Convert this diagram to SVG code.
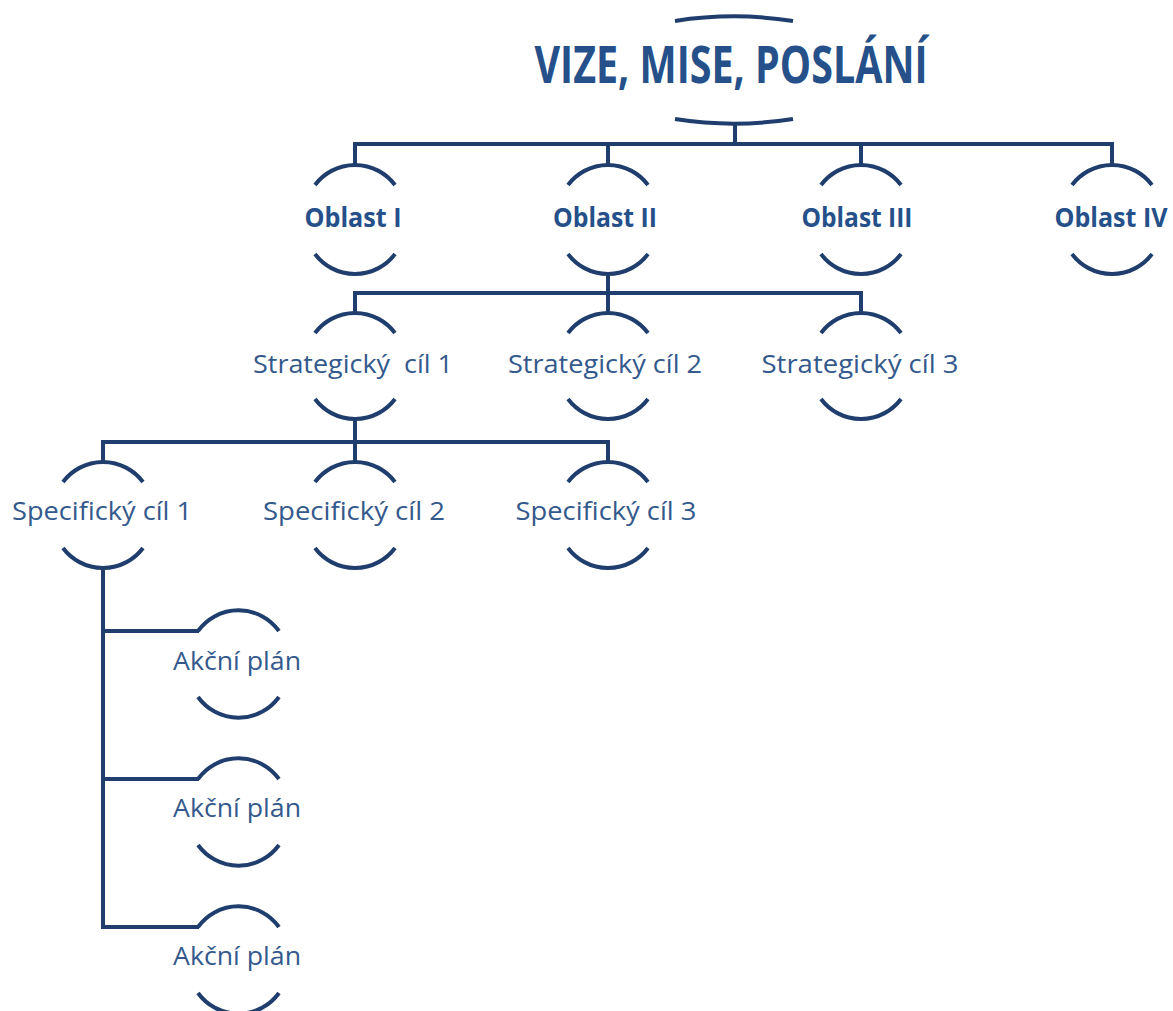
<svg xmlns="http://www.w3.org/2000/svg" width="1173" height="1011" viewBox="0 0 1173 1011">
<style>
.ln{fill:none;stroke:#1F3D6D;stroke-width:4;stroke-linejoin:miter;stroke-linecap:butt}
.arc{fill:none;stroke:#1F3D6D;stroke-width:4;stroke-linecap:butt}
.t{font-family:"Open Sans","Noto Sans","Liberation Sans",sans-serif;text-anchor:middle;fill:#34598C}
.b{font-weight:bold;fill:#25508A}
.title{font-size:52px}
.ob{font-size:26px}
.lab{font-size:25px}
</style>
<rect width="1173" height="1011" fill="#ffffff"/>
<g id="connectors">
<path class="ln" d="M735 122 V144 M353 144 H1114 M355 142 V165 M608 144 V165 M861 144 V165 M1112 142 V165"/>
<path class="ln" d="M608 274 V293 M353 293 H863 M355 291 V313 M608 293 V313 M861 291 V313"/>
<path class="ln" d="M355 419 V442 M101 442 H610 M103 440 V462 M355 442 V462 M608 440 V462"/>
<path class="ln" d="M103 568 V929 M103 631 H199 M103 779 H199 M103 927 H199"/>
</g>
<g id="node-title">
<path class="arc" d="M675 21 A380 380 0 0 1 793 21"/>
<text class="t b title" x="731" y="83" textLength="393" lengthAdjust="spacingAndGlyphs">VIZE, MISE, POSLÁNÍ</text>
<path class="arc" d="M675 119 A380 380 0 0 0 793 119"/>
</g>
<g id="node-oblast-1">
<path class="arc" d="M315 185 A50 50 0 0 1 395 185"/>
<text class="t b ob" x="353" y="227" textLength="97" lengthAdjust="spacingAndGlyphs">Oblast I</text>
<path class="arc" d="M315 254 A50 50 0 0 0 395 254"/>
</g>
<g id="node-oblast-2">
<path class="arc" d="M568 185 A50 50 0 0 1 648 185"/>
<text class="t b ob" x="605" y="227" textLength="104" lengthAdjust="spacingAndGlyphs">Oblast II</text>
<path class="arc" d="M568 254 A50 50 0 0 0 648 254"/>
</g>
<g id="node-oblast-3">
<path class="arc" d="M821 185 A50 50 0 0 1 901 185"/>
<text class="t b ob" x="857" y="227" textLength="111" lengthAdjust="spacingAndGlyphs">Oblast III</text>
<path class="arc" d="M821 254 A50 50 0 0 0 901 254"/>
</g>
<g id="node-oblast-4">
<path class="arc" d="M1072 185 A50 50 0 0 1 1152 185"/>
<text class="t b ob" x="1111" y="227" textLength="113" lengthAdjust="spacingAndGlyphs">Oblast IV</text>
<path class="arc" d="M1072 254 A50 50 0 0 0 1152 254"/>
</g>
<g id="node-strategicky-1">
<path class="arc" d="M315 333 A50 50 0 0 1 395 333"/>
<text class="t lab" x="353" y="373" textLength="200" lengthAdjust="spacingAndGlyphs" xml:space="preserve">Strategický  cíl 1</text>
<path class="arc" d="M315 399 A50 50 0 0 0 395 399"/>
</g>
<g id="node-strategicky-2">
<path class="arc" d="M568 333 A50 50 0 0 1 648 333"/>
<text class="t lab" x="605" y="373" textLength="194" lengthAdjust="spacingAndGlyphs">Strategický cíl 2</text>
<path class="arc" d="M568 399 A50 50 0 0 0 648 399"/>
</g>
<g id="node-strategicky-3">
<path class="arc" d="M821 333 A50 50 0 0 1 901 333"/>
<text class="t lab" x="860" y="373" textLength="197" lengthAdjust="spacingAndGlyphs">Strategický cíl 3</text>
<path class="arc" d="M821 399 A50 50 0 0 0 901 399"/>
</g>
<g id="node-specificky-1">
<path class="arc" d="M63 482 A50 50 0 0 1 143 482"/>
<text class="t lab" x="102" y="520" textLength="180" lengthAdjust="spacingAndGlyphs">Specifický cíl 1</text>
<path class="arc" d="M63 548 A50 50 0 0 0 143 548"/>
</g>
<g id="node-specificky-2">
<path class="arc" d="M315 482 A50 50 0 0 1 395 482"/>
<text class="t lab" x="354" y="520" textLength="182" lengthAdjust="spacingAndGlyphs">Specifický cíl 2</text>
<path class="arc" d="M315 548 A50 50 0 0 0 395 548"/>
</g>
<g id="node-specificky-3">
<path class="arc" d="M568 482 A50 50 0 0 1 648 482"/>
<text class="t lab" x="606" y="520" textLength="181" lengthAdjust="spacingAndGlyphs">Specifický cíl 3</text>
<path class="arc" d="M568 548 A50 50 0 0 0 648 548"/>
</g>
<g id="node-akcni-1">
<path class="arc" d="M198 631 A50 50 0 0 1 279 631"/>
<text class="t lab" x="237" y="670" textLength="128" lengthAdjust="spacingAndGlyphs">Akční plán</text>
<path class="arc" d="M198 697 A50 50 0 0 0 279 697"/>
</g>
<g id="node-akcni-2">
<path class="arc" d="M198 779 A50 50 0 0 1 279 779"/>
<text class="t lab" x="237" y="817" textLength="128" lengthAdjust="spacingAndGlyphs">Akční plán</text>
<path class="arc" d="M198 845 A50 50 0 0 0 279 845"/>
</g>
<g id="node-akcni-3">
<path class="arc" d="M198 927 A50 50 0 0 1 279 927"/>
<text class="t lab" x="237" y="965" textLength="128" lengthAdjust="spacingAndGlyphs">Akční plán</text>
<path class="arc" d="M198 993 A50 50 0 0 0 279 993"/>
</g>
</svg>
